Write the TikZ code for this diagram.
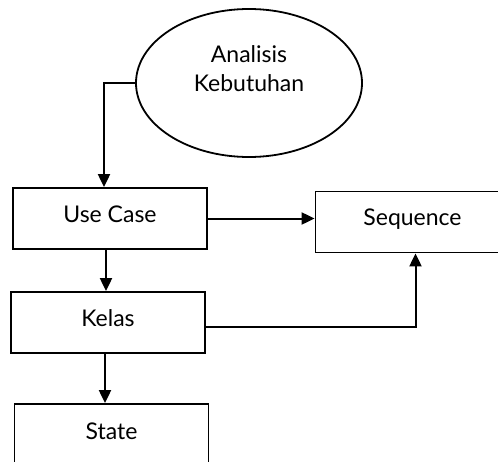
\documentclass[tikz,border=0pt]{standalone}
\usepackage{fontspec}
\setmainfont{Lato}
\usetikzlibrary{shapes.geometric, arrows.meta, positioning}
\tikzstyle{diagram} = [rectangle, minimum width=97pt, minimum height=30.5pt, inner ysep=0pt, text height=17pt, text depth=13.5pt, draw=black, line width=0.9pt]
\tikzstyle{analysis} = [ellipse, minimum width=113pt, minimum height=74pt, align=center, text depth=14pt, draw=black, line width=0.9pt]
\tikzstyle{arrow} = [line width=1pt, -{Triangle[width=6pt,length=6.5pt]}]

\begin{document}
\begin{tikzpicture}[x=0.5pt, y=-0.5pt, font=\fontsize{11.5}{14.5}\selectfont]
\useasboundingbox (0,0) rectangle (498,461);
\clip (0,0) rectangle (498,461);

\node (need) [analysis] at (249,83) {Analisis\\Kebutuhan};
\node (usecase) [diagram] at (110,218.5) {Use Case};
\node (sequence) [diagram] at (412.5,222) {Sequence};
\node (kelas) [diagram] at (108,322.5) {Kelas};
\node (state) [diagram, text height=17.5pt, text depth=13pt] at (111.5,434.5) {State};

\draw [arrow] (need.west) -| ([xshift=-3pt]usecase.north);
\draw [arrow] (usecase.east) -- (usecase.east -| sequence.west);
\draw [arrow] ([xshift=-2pt]usecase.south) -- ([xshift=-2pt]usecase.south |- kelas.north);
\draw [arrow] ([yshift=-2pt]kelas.east) -| ([xshift=1.5pt]sequence.south);
\draw [arrow] ([xshift=-1.5pt]kelas.south) -- ([xshift=-1.5pt]kelas.south |- state.north);

\end{tikzpicture}
\end{document}
